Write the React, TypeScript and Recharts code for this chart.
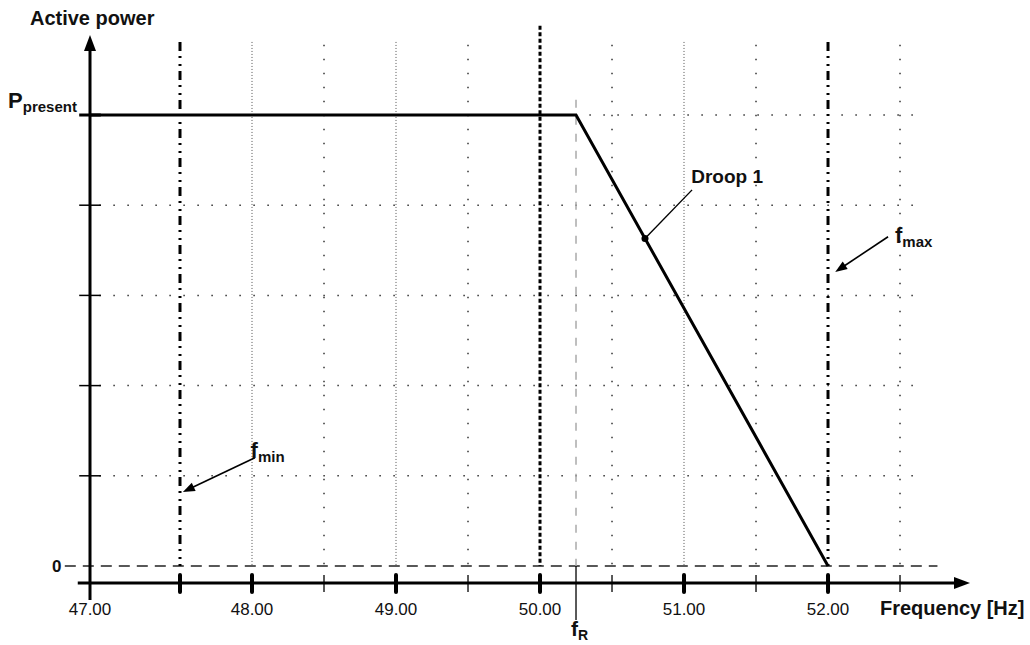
import { ComposedChart, Line, XAxis, YAxis, ReferenceLine, ReferenceDot } from "recharts";

// Active power vs frequency (droop curve)
const X_MIN = 46.875;
const X_MAX = 52.986;
const Y_MIN = -0.1885;
const Y_MAX = 5.887;

const curveFreq = [46.875, 50.25, 52];
const curvePower = [5, 5, 0];

const xTicksMajor = [47.5, 48, 49, 50, 51, 52];
const xTicksMinor = [48.5, 49.5, 50.5, 51.5, 52.5];
const xTickLabels = ["47.00", "48.00", "49.00", "50.00", "51.00", "52.00"];
const xLabelValues = [X_MIN, 48, 49, 50, 51, 52];
const yCrossTicks = [1, 2, 3, 4, 5];

const gridFine = [48, 49, 51];
const gridSparse = [48.5, 49.5, 50.5, 51.5, 52.5];
const gridRows = [1, 2, 3, 4, 5];

const F_MIN = 47.5;
const F_MAX = 52;
const F_R = 50.25;
const F_NOM = 50;
const P_PRESENT = 5;

const data = curveFreq.map((f, i) => ({ f, p: curvePower[i] }));

const FONT = "'Liberation Sans', Arial, sans-serif";

function arrowHead(x1: number, y1: number, x2: number, y2: number, len: number, half: number) {
  const a = Math.atan2(y2 - y1, x2 - x1);
  const bx = x2 - len * Math.cos(a);
  const by = y2 - len * Math.sin(a);
  const px = -Math.sin(a) * half;
  const py = Math.cos(a) * half;
  return `${x2},${y2} ${bx + px},${by + py} ${bx - px},${by - py}`;
}

function AxisArrow(props: any) {
  const { x1, y1, x2, y2 } = props;
  const a = Math.atan2(y2 - y1, x2 - x1);
  return (
    <g>
      <line x1={x1} y1={y1} x2={x2 - 10 * Math.cos(a)} y2={y2 - 10 * Math.sin(a)} stroke="#000" strokeWidth={3} />
      <polygon points={arrowHead(x1, y1, x2, y2, 16, 6)} fill="#000" />
    </g>
  );
}

function PointerArrow(props: any) {
  const { x1, y1, x2, y2 } = props;
  const a = Math.atan2(y2 - y1, x2 - x1);
  return (
    <g>
      <line x1={x1} y1={y1} x2={x2 - 8 * Math.cos(a)} y2={y2 - 8 * Math.sin(a)} stroke="#000" strokeWidth={1.6} />
      <polygon points={arrowHead(x1, y1, x2, y2, 12, 4.5)} fill="#000" />
    </g>
  );
}

function Leader(props: any) {
  const { x1, y1, x2, y2 } = props;
  return (
    <g>
      <line x1={x1} y1={y1} x2={x2} y2={y2} stroke="#000" strokeWidth={1.4} />
      <circle cx={x2} cy={y2} r={3.5} fill="#000" />
    </g>
  );
}

function label(main: string, sub: string, size = 22, subSize = 15) {
  return (props: any) => (
    <text x={props.cx} y={props.cy} fontFamily={FONT} fontWeight="bold" fill="#111">
      <tspan fontSize={size}>{main}</tspan>
      {sub && <tspan fontSize={subSize} dy={4}>{sub}</tspan>}
    </text>
  );
}

function tickLabel(text: string) {
  return (props: any) => (
    <text x={props.cx} y={props.cy} textAnchor="middle" fontFamily={FONT} fontSize={17} fill="#111">
      {text}
    </text>
  );
}

export default function App() {
  return (
    <div style={{ position: "absolute", left: 0, top: 0, width: 1030, height: 645, background: "#fff" }}>
      <ComposedChart width={1030} height={645} data={data} margin={{ top: 35, right: 60, bottom: 62, left: 90 }}>
        <XAxis dataKey="f" type="number" domain={[X_MIN, X_MAX]} height={0} hide allowDataOverflow />
        <YAxis type="number" domain={[Y_MIN, Y_MAX]} width={0} hide allowDataOverflow />

        {gridRows.map((r) => (
          <ReferenceLine
            key={`row-${r}`}
            segment={[{ x: 46.94, y: r }, { x: 52.67, y: r }]}
            stroke="#333"
            strokeWidth={1.5}
            strokeDasharray="1.5 12.5"
            ifOverflow="visible"
          />
        ))}
        {gridFine.map((g) => (
          <ReferenceLine
            key={`fine-${g}`}
            segment={[{ x: g, y: 5.81 }, { x: g, y: 0 }]}
            stroke="#555"
            strokeWidth={1}
            strokeDasharray="1 2"
            ifOverflow="visible"
          />
        ))}
        {gridSparse.map((g) => (
          <ReferenceLine
            key={`sparse-${g}`}
            segment={[{ x: g, y: 5.78 }, { x: g, y: 0 }]}
            stroke="#333"
            strokeWidth={1.5}
            strokeDasharray="1.5 12.5"
            ifOverflow="visible"
          />
        ))}

        <ReferenceLine
          segment={[{ x: 46.70, y: 0 }, { x: 52.76, y: 0 }]}
          stroke="#222"
          strokeWidth={1.4}
          strokeDasharray="11 7"
          ifOverflow="visible"
        />
        <ReferenceLine
          segment={[{ x: F_NOM, y: 5.99 }, { x: F_NOM, y: 0 }]}
          stroke="#000"
          strokeWidth={3}
          strokeDasharray="4 2.5"
          ifOverflow="visible"
        />
        <ReferenceLine
          segment={[{ x: F_R, y: 5.17 }, { x: F_R, y: 0 }]}
          stroke="#aaa"
          strokeWidth={1.5}
          strokeDasharray="8 9"
          ifOverflow="visible"
        />
        <ReferenceLine
          segment={[{ x: F_R, y: 0 }, { x: F_R, y: -0.6 }]}
          stroke="#000"
          strokeWidth={1.3}
          ifOverflow="visible"
        />
        {[F_MIN, F_MAX].map((f) => (
          <ReferenceLine
            key={`lim-${f}`}
            segment={[{ x: f, y: 5.81 }, { x: f, y: 0 }]}
            stroke="#000"
            strokeWidth={3}
            strokeDasharray="9 5 2 6 2 5"
            ifOverflow="visible"
          />
        ))}

        <Line
          dataKey="p"
          type="linear"
          stroke="#000"
          strokeWidth={3}
          dot={false}
          activeDot={false}
          isAnimationActive={false}
        />

        <ReferenceLine
          segment={[{ x: X_MIN, y: -0.377 }, { x: X_MIN, y: Y_MAX }]}
          shape={<AxisArrow />}
          ifOverflow="visible"
        />
        <ReferenceLine
          segment={[{ x: 46.79, y: Y_MIN }, { x: X_MAX, y: Y_MIN }]}
          shape={<AxisArrow />}
          ifOverflow="visible"
        />
        {yCrossTicks.map((t) => (
          <ReferenceLine
            key={`yt-${t}`}
            segment={[{ x: 46.80, y: t }, { x: 46.95, y: t }]}
            stroke="#000"
            strokeWidth={t === P_PRESENT ? 3 : 1.5}
            ifOverflow="visible"
          />
        ))}
        {xTicksMajor.map((t) => (
          <ReferenceLine
            key={`xM-${t}`}
            segment={[{ x: t, y: Y_MIN + 0.09 }, { x: t, y: Y_MIN - 0.1 }]}
            stroke="#000"
            strokeWidth={4}
            strokeLinecap="round"
            ifOverflow="visible"
          />
        ))}
        {xTicksMinor.map((t) => (
          <ReferenceLine
            key={`xm-${t}`}
            segment={[{ x: t, y: Y_MIN + 0.09 }, { x: t, y: Y_MIN - 0.1 }]}
            stroke="#000"
            strokeWidth={1.3}
            ifOverflow="visible"
          />
        ))}
        {xLabelValues.map((v, i) => (
          <ReferenceDot key={`xl-${v}`} x={v} y={-0.543} r={0} ifOverflow="visible" shape={tickLabel(xTickLabels[i])} />
        ))}

        <ReferenceLine
          segment={[{ x: 51.056, y: 4.17 }, { x: 50.729, y: 3.63 }]}
          shape={<Leader />}
          ifOverflow="visible"
        />
        <ReferenceLine
          segment={[{ x: 52.417, y: 3.65 }, { x: 52.05, y: 3.26 }]}
          shape={<PointerArrow />}
          ifOverflow="visible"
        />
        <ReferenceLine
          segment={[{ x: 48.02, y: 1.2 }, { x: 47.52, y: 0.82 }]}
          shape={<PointerArrow />}
          ifOverflow="visible"
        />

        <ReferenceDot x={51.05} y={4.25} r={0} ifOverflow="visible" shape={label("Droop 1", "", 19)} />
        <ReferenceDot x={52.465} y={3.58} r={0} ifOverflow="visible" shape={label("f", "max")} />
        <ReferenceDot x={47.99} y={1.2} r={0} ifOverflow="visible" shape={label("f", "min")} />
        <ReferenceDot x={50.215} y={-0.776} r={0} ifOverflow="visible" shape={label("f", "R", 21, 14)} />
        <ReferenceDot x={46.458} y={6.0} r={0} ifOverflow="visible" shape={label("Active power", "", 20)} />
        <ReferenceDot x={52.361} y={-0.543} r={0} ifOverflow="visible" shape={label("Frequency [Hz]", "", 20)} />
        <ReferenceDot x={46.611} y={-0.065} r={0} ifOverflow="visible" shape={label("0", "", 17)} />
        <ReferenceDot x={46.82} y={P_PRESENT + 0.08} r={0} ifOverflow="visible" shape={(p: any) => (
          <text x={p.cx - 74} y={p.cy} fontFamily={FONT} fontWeight="bold" fill="#111">
            <tspan fontSize={22}>P</tspan>
            <tspan fontSize={15} dy={4}>present</tspan>
          </text>
        )} />
      </ComposedChart>
    </div>
  );
}
